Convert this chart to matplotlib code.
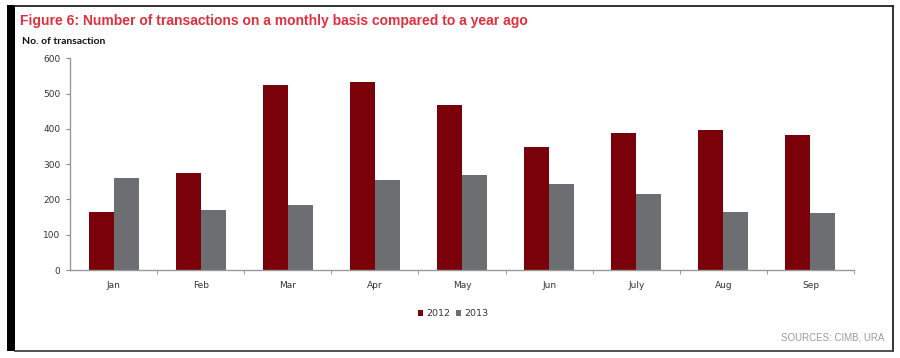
import matplotlib
matplotlib.use("Agg")
import matplotlib.pyplot as plt
from matplotlib.patches import Rectangle
from matplotlib.lines import Line2D
import numpy as np

months = ["Jan", "Feb", "Mar", "Apr", "May", "Jun", "July", "Aug", "Sep"]
y2012 = [163, 275, 525, 532, 467, 350, 387, 398, 384]
y2013 = [261, 171, 183, 254, 268, 244, 215, 164, 161]
yticks = [0, 100, 200, 300, 400, 500, 600]

W, H = 900, 358
fig = plt.figure(figsize=(9, 3.58), dpi=100)
fig.patch.set_facecolor("white")

# frame
fig.add_artist(Rectangle((7 / W, 1 - 351 / H), 8 / W, 346 / H, transform=fig.transFigure,
                         facecolor="black", edgecolor="none"))
fig.add_artist(Line2D([15 / W, 893 / W], [1 - 5.5 / H, 1 - 5.5 / H], transform=fig.transFigure,
                      color="#222222", lw=1.3))
fig.add_artist(Line2D([893 / W, 893 / W], [1 - 5.5 / H, 1 - 350.5 / H], transform=fig.transFigure,
                      color="#222222", lw=1.3))
fig.add_artist(Line2D([15 / W, 893 / W], [1 - 350.5 / H, 1 - 350.5 / H], transform=fig.transFigure,
                      color="#444444", lw=1.3))

ax = fig.add_axes([70 / W, 88 / H, (854 - 70) / W, (270 - 58.3) / H])
x = np.arange(len(months))
w = 0.287
ax.bar(x - w / 2, y2012, width=w, color="#7A0009", label="2012")
ax.bar(x + w / 2, y2013, width=w, color="#6D6E71", label="2013")
ax.set_xlim(-0.5, len(months) - 0.5)
ax.set_ylim(0, 600)
ax.set_yticks(yticks)
ax.set_yticklabels([str(v) for v in yticks])
ax.set_xticks(x)
ax.set_xticklabels(months)
ax.set_xticks(np.arange(len(months)) + 0.5, minor=True)
ax.tick_params(axis="x", which="major", length=0, pad=8, labelsize=6.5, labelcolor="#333333")
ax.tick_params(axis="x", which="minor", length=3, color="#888888", direction="out")
ax.tick_params(axis="y", length=3, color="#888888", labelsize=6.5, labelcolor="#333333", pad=4)
for s in ["top", "right"]:
    ax.spines[s].set_visible(False)
for s in ["left", "bottom"]:
    ax.spines[s].set_color("#999999")
    ax.spines[s].set_linewidth(1)

fig.text(20 / W, 1 - 21 / H, "Figure 6: Number of transactions on a monthly basis compared to a year ago",
         family="Liberation Sans", weight="bold", color="#E0303C", fontsize=10, va="center", ha="left")
fig.text(22 / W, 1 - 42 / H, "No. of transaction", family="Lato", weight="bold",
         color="#111111", fontsize=7.5, va="center", ha="left")

leg = fig.legend(loc="center", bbox_to_anchor=(453 / W, 1 - 314 / H), ncol=2, frameon=False,
                 fontsize=6.8, handlelength=0.6, handleheight=0.6, handletextpad=0.3,
                 columnspacing=0.6)
for t in leg.get_texts():
    t.set_color("#333333")

fig.text(884 / W, 1 - 338 / H, "SOURCES: CIMB, URA", family="Liberation Sans", color="#999999",
         fontsize=7, va="center", ha="right")

fig.savefig("out.png", dpi=100, facecolor="white")
